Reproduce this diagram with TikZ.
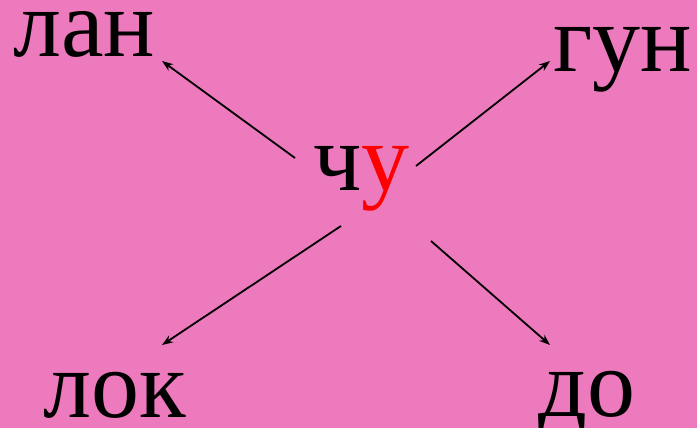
\documentclass[tikz,border=0pt]{standalone}
\usepackage{fontspec}
\setmainfont{Liberation Serif}
\usetikzlibrary{arrows.meta}
\definecolor{bgpink}{RGB}{236,122,188}
\definecolor{syl}{RGB}{255,0,0}

\begin{document}
\begin{tikzpicture}[x=1pt, y=-1pt,
  word/.style={anchor=base west, inner sep=0pt, font=\fontsize{96}{100}\selectfont},
  link/.style={line width=1.8pt, -{Stealth[length=11pt,width=8pt,inset=3.5pt]}}]
\fill[bgpink] (0,0) rectangle (697,428);
\useasboundingbox (0,0) rectangle (697,428);
\node[word] (lan) at (13,57) {лан};
\node[word] (gun) at (553,72) {гун};
\node[word] (chu) at (313,190) {ч\textcolor{syl}{у}};
\node[word] (lok) at (43,417) {лок};
\node[word] (do) at (538,416) {до};
% ends of the arrows
\coordinate (chu-nw) at (295,158);
\coordinate (chu-ne) at (416,166);
\coordinate (chu-sw) at (341,226);
\coordinate (chu-se) at (431,241);
\coordinate (lan-in) at (162,61);
\coordinate (gun-in) at (550,61);
\coordinate (lok-in) at (162,345);
\coordinate (do-in) at (550,345);
\draw[link] (chu-nw) -- (lan-in);
\draw[link] (chu-ne) -- (gun-in);
\draw[link] (chu-sw) -- (lok-in);
\draw[link] (chu-se) -- (do-in);
\end{tikzpicture}
\end{document}
